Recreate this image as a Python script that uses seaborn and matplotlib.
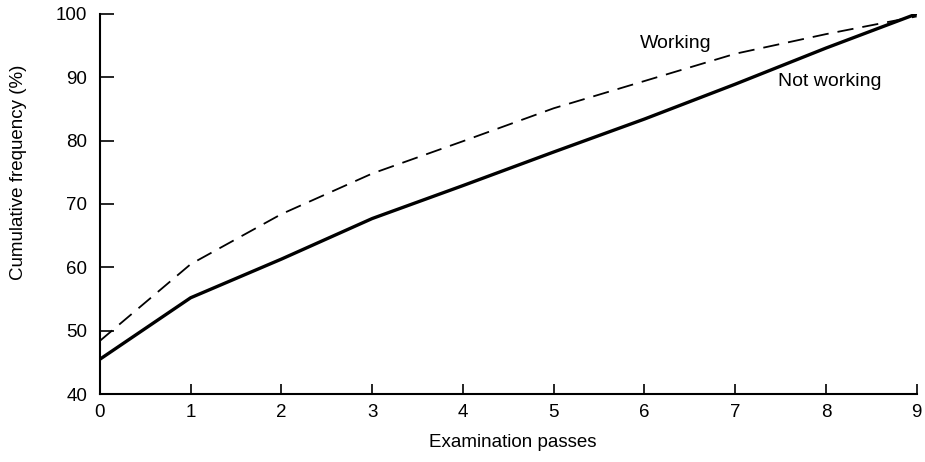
import matplotlib
matplotlib.use("Agg")
import matplotlib.pyplot as plt
import seaborn as sns

# values
passes = [0, 1, 2, 3, 4, 5, 6, 7, 8, 9]
working = [48.4, 60.5, 68.4, 74.8, 79.9, 85.1, 89.4, 93.7, 96.8, 99.6]
not_working = [45.5, 55.2, 61.3, 67.7, 72.9, 78.2, 83.4, 88.9, 94.6, 100.0]
y_ticks = [40, 50, 60, 70, 80, 90, 100]

sns.set_style("ticks")
plt.rcParams["font.family"] = ["Liberation Sans", "DejaVu Sans"]
plt.rcParams["text.color"] = "black"
plt.rcParams["axes.labelcolor"] = "black"

fig = plt.figure(figsize=(9.25, 4.62), dpi=100)
ax = fig.add_axes([0.108, 0.147, 0.883, 0.823])

sns.lineplot(x=passes, y=working, ax=ax, color="black", linewidth=1.3,
             linestyle=(0, (9, 5)))
sns.lineplot(x=passes, y=not_working, ax=ax, color="black", linewidth=2.4)

ax.text(5.95, 95.3, "Working", fontsize=14, va="center", ha="left")
ax.text(7.47, 89.4, "Not working", fontsize=14, va="center", ha="left")

ax.set_xlim(0, 9)
ax.set_ylim(40, 100)
ax.set_xticks(passes)
ax.set_yticks(y_ticks)
ax.tick_params(axis="x", direction="in", length=7, width=1.2, pad=7,
               labelsize=13.5, colors="black")
ax.tick_params(axis="y", direction="in", length=10, width=1.2, pad=9,
               labelsize=13.5, colors="black")

sns.despine(ax=ax)
for side in ["left", "bottom"]:
    ax.spines[side].set_linewidth(1.5)
    ax.spines[side].set_color("black")

ax.set_xlabel("Examination passes", fontsize=13.5)
ax.set_ylabel("Cumulative frequency (%)", fontsize=13.5)
ax.xaxis.set_label_coords(0.506, -0.105)
ax.yaxis.set_label_coords(-0.089, 0.584)

fig.savefig("out.png", dpi=100)
